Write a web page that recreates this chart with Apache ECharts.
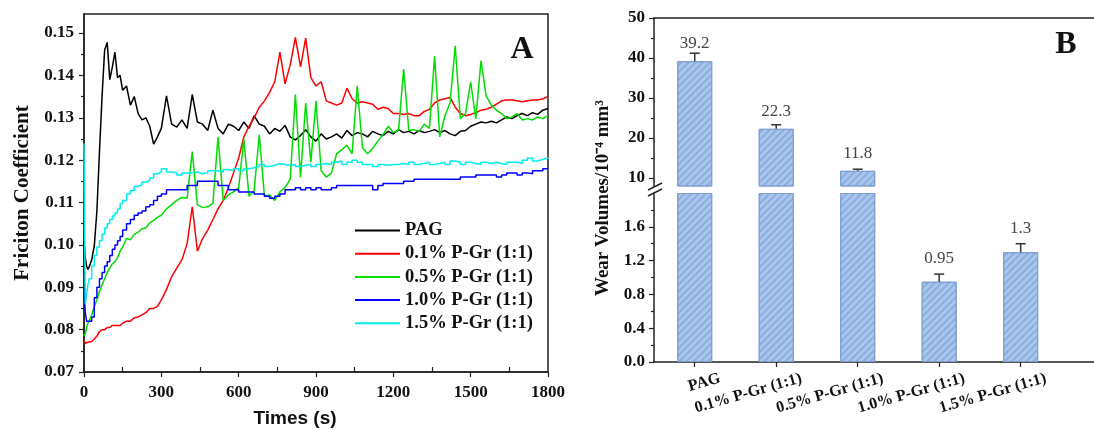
<!DOCTYPE html>
<html><head><meta charset="utf-8">
<script src="https://cdn.jsdelivr.net/npm/echarts@6/dist/echarts.min.js"></script>
<style>html,body{margin:0;padding:0;background:#fff}#c{width:1094px;height:430px}</style>
</head><body><div id="c"></div>
<script>
// ---------- Panel A data ----------
const times = [0,5,10,15,20,30,40,50,60,70,80,90,100,110,120,130,140,150,165,180,195,210,225,240,255,270,285,300,
320,340,360,380,400,420,440,460,480,500,520,540,560,580,600,620,640,660,680,700,720,740,760,780,800,820,840,860,880,900,
920,940,960,980,1000,1020,1040,1060,1080,1100,1120,1140,1160,1180,1200,1220,1240,1260,1280,1300,1320,1340,1360,1380,1400,
1420,1440,1460,1480,1500,1520,1540,1560,1580,1600,1620,1640,1660,1680,1700,1720,1740,1760,1780,1800];

const pagCoef = [0.101,0.097,0.095,0.0942,0.0948,0.0965,0.0998,0.108,0.122,0.135,0.146,0.1478,0.139,0.142,0.1455,0.1395,0.140,0.1365,0.1375,0.133,0.135,0.131,0.1295,0.130,0.128,0.1238,0.1255,0.1275,
0.1352,0.1285,0.1278,0.1295,0.1275,0.1355,0.129,0.1285,0.127,0.1318,
0.1275,0.1262,0.1285,0.128,0.127,0.129,0.1275,0.1305,0.1285,0.128,
0.1262,0.1275,0.1268,0.1282,0.1255,0.1248,0.1258,0.1272,0.1255,0.1245,
0.1262,0.125,0.1255,0.1262,0.1252,0.127,0.1258,0.1265,0.1262,0.1255,
0.1268,0.1262,0.1258,0.1268,0.1262,0.1272,0.1265,0.1268,0.1262,0.127,
0.1265,0.1268,0.1272,0.1265,0.127,0.1262,0.1258,0.1268,0.127,0.128,
0.1285,0.129,0.1288,0.1292,0.1288,0.1295,0.1302,0.1298,0.1305,0.131,
0.1305,0.1312,0.1308,0.1318,0.1322];

const pg01Coef = [0.0775,0.0768,0.0765,0.077,0.077,0.0772,0.0778,0.0785,0.0795,0.080,0.080,0.0805,0.0805,0.081,0.081,0.081,0.081,0.0815,0.082,0.082,0.0828,0.083,0.0835,0.084,0.085,0.085,0.0855,0.087,
0.0895,0.0925,0.0945,0.0965,0.1003,0.109,0.0985,0.1015,0.1035,0.106,
0.1085,0.1105,0.1135,0.117,0.1205,0.1255,0.128,0.130,0.1325,0.134,
0.136,0.1385,0.1455,0.138,0.1425,0.149,0.142,0.1488,0.1395,0.1375,
0.1385,0.134,0.1335,0.133,0.1335,0.137,0.1345,0.1335,0.1338,0.1335,
0.1332,0.132,0.1325,0.1322,0.131,0.131,0.1308,0.131,0.1305,0.1305,
0.1315,0.132,0.1335,0.1342,0.1345,0.1348,0.1325,0.131,0.1305,0.1308,
0.1312,0.1318,0.132,0.1325,0.1332,0.134,0.1342,0.1342,0.134,0.1338,
0.134,0.1342,0.1342,0.1345,0.135];

const pg05Coef = [0.0785,0.079,0.0805,0.0815,0.082,0.0835,0.0855,0.087,0.089,0.0905,0.092,0.0935,0.0945,0.0955,0.096,0.097,0.0985,0.0995,0.1015,0.1012,0.1025,0.103,0.1038,0.104,0.1052,0.1058,0.1065,0.107,
0.1085,0.1095,0.1105,0.1112,0.111,0.122,0.1095,0.1088,0.109,0.1098,
0.1255,0.1105,0.1118,0.1125,0.1135,0.125,0.1115,0.1128,0.126,0.1115,
0.1118,0.1105,0.1125,0.1135,0.1155,0.1355,0.116,0.1335,0.1195,0.134,
0.1175,0.116,0.117,0.1215,0.1225,0.1235,0.1215,0.1375,0.123,0.1215,
0.1228,0.1245,0.126,0.128,0.1265,0.127,0.1415,0.127,0.1272,0.1268,
0.1285,0.1275,0.1445,0.1255,0.1305,0.1335,0.147,0.1298,0.131,0.1385,
0.1298,0.1435,0.1352,0.133,0.1318,0.131,0.1298,0.1302,0.131,0.1295,
0.1298,0.1295,0.1302,0.1298,0.1305];

const pg10Coef = [0.09,0.084,0.082,0.082,0.082,0.083,0.0875,0.090,0.092,0.0935,0.095,0.096,0.0975,0.099,0.100,0.101,0.102,0.1035,0.105,0.106,0.107,0.1075,0.108,0.109,0.1095,0.1105,0.1115,0.112,
0.113,0.113,0.113,0.113,0.114,0.114,0.115,0.115,0.115,0.115,
0.114,0.114,0.113,0.113,0.1125,0.1125,0.1125,0.112,0.112,0.1115,
0.111,0.1115,0.112,0.113,0.113,0.1135,0.113,0.1135,0.113,0.1135,
0.113,0.113,0.1135,0.114,0.114,0.114,0.114,0.114,0.114,0.114,
0.113,0.114,0.1145,0.1145,0.1145,0.1145,0.115,0.115,0.1155,0.1155,
0.1155,0.1155,0.1155,0.1155,0.1155,0.1155,0.1155,0.116,0.116,0.116,
0.1165,0.1165,0.1165,0.1165,0.116,0.1165,0.117,0.117,0.1165,0.117,
0.1168,0.1175,0.1175,0.118,0.118];

const pg15Coef = [0.124,0.086,0.0885,0.0905,0.092,0.095,0.0975,0.0995,0.101,0.1025,0.104,0.105,0.106,0.1068,0.1075,0.1085,0.1098,0.1105,0.112,0.1128,0.1138,0.1142,0.1148,0.1152,0.1158,0.1168,0.1172,0.118,
0.1172,0.117,0.1165,0.117,0.117,0.1172,0.1168,0.117,0.1175,0.1175,
0.1172,0.1178,0.1175,0.118,0.1175,0.118,0.1182,0.1185,0.119,0.1185,
0.1188,0.1192,0.119,0.1188,0.119,0.1185,0.1188,0.119,0.1185,0.119,
0.1192,0.119,0.1195,0.1198,0.119,0.1195,0.120,0.1195,0.119,0.119,
0.1185,0.119,0.1188,0.119,0.119,0.1192,0.119,0.1195,0.119,0.1192,
0.1195,0.119,0.1192,0.1195,0.119,0.1198,0.1195,0.119,0.1195,0.1192,
0.119,0.1195,0.1192,0.1195,0.1192,0.119,0.1195,0.1195,0.1192,0.120,
0.1205,0.1198,0.1202,0.1205,0.1202];

const seriesNames = ['PAG','0.1% P-Gr (1:1)','0.5% P-Gr (1:1)','1.0% P-Gr (1:1)','1.5% P-Gr (1:1)'];
const xTicksA = [0,300,600,900,1200,1500,1800];
const xMinorA = [150,450,750,1050,1350,1650];
const yTicksA = [0.07,0.08,0.09,0.10,0.11,0.12,0.13,0.14,0.15];
const yMinorA = [0.075,0.085,0.095,0.105,0.115,0.125,0.135,0.145];

// ---------- Panel B data ----------
const categories = ['PAG','0.1% P-Gr (1:1)','0.5% P-Gr (1:1)','1.0% P-Gr (1:1)','1.5% P-Gr (1:1)'];
const wearVolumes = [39.2, 22.3, 11.8, 0.95, 1.3];
const wearErrors = [2.0, 1.0, 0.4, 0.09, 0.1];
const upperTicksB = [10,20,30,40,50];
const upperMinorB = [15,25,35,45];
const lowerTicksB = [0.0,0.4,0.8,1.2,1.6];
const lowerMinorB = [0.2,0.6,1.0,1.4,1.8];
const breakLow = 2.0, breakHigh = 8;

// ---------- styling ----------
const SERIF = 'Liberation Serif';
const lineColors = ['#000000','#ff0000','#00dd00','#0000ff','#00eeee'];
const coefArrays = [pagCoef, pg01Coef, pg05Coef, pg10Coef, pg15Coef];
const stepped = [false, false, false, true, true];
const axisLineStyle = {lineStyle:{color:'#222', width:1.5}};
const tickLabel = {fontFamily:SERIF, fontWeight:'bold', fontSize:17, color:'#111'};

const chart = echarts.init(document.getElementById('c'), null, {renderer:'canvas'});

const lineSeries = coefArrays.map((arr, k) => ({
  type:'line', name:seriesNames[k], xAxisIndex:0, yAxisIndex:0,
  data: times.map((t,i) => [t, arr[i]]),
  symbol:'none', step: stepped[k] ? 'end' : false,
  lineStyle:{color:lineColors[k], width:1.5}, itemStyle:{color:lineColors[k]},
  z: 2
}));

const barStyle = {
  color:'#a9c6ec', borderColor:'#7f9fcf', borderWidth:1,
  decal:{symbol:'rect', symbolSize:1, dashArrayX:[1,0], dashArrayY:[1.5,2.5], rotation:-Math.PI/4, color:'rgba(90,130,195,0.38)'}
};

function errRender(params, api) {
  const x = api.value(0), v = api.value(1), e = api.value(2);
  const p0 = api.coord([x, v]), p1 = api.coord([x, v + e]);
  const hw = 5;
  return {type:'group', children:[
    {type:'line', shape:{x1:p0[0], y1:p0[1], x2:p1[0], y2:p1[1]}, style:{stroke:'#333', lineWidth:1.5}},
    {type:'line', shape:{x1:p1[0]-hw, y1:p1[1], x2:p1[0]+hw, y2:p1[1]}, style:{stroke:'#333', lineWidth:1.5}}
  ]};
}

const valLabel = {show:true, position:'top', fontFamily:SERIF, fontSize:17, color:'#444',
  formatter: p => String(wearVolumes[p.dataIndex])};

const upperBars = {
  type:'bar', xAxisIndex:3, yAxisIndex:2, barWidth:35, clip:true,
  data: wearVolumes.map((v,i) => [i+1, v >= breakHigh ? v : '-']),
  itemStyle: barStyle, label: Object.assign({}, valLabel, {distance:9}), z:2
};
const lowerBars = {
  type:'bar', xAxisIndex:2, yAxisIndex:4, barWidth:35, clip:true,
  data: wearVolumes.map((v,i) => ({value:[i+1, Math.min(v, breakLow)], label:{show: v < breakLow}})),
  itemStyle: barStyle, label: Object.assign({}, valLabel, {distance:15}), z:2
};
const upperErr = {
  type:'custom', xAxisIndex:3, yAxisIndex:2, renderItem:errRender, z:3,
  data: wearVolumes.map((v,i) => [i+1, v, wearErrors[i]]).filter(d => d[1] >= breakHigh)
};
const lowerErr = {
  type:'custom', xAxisIndex:2, yAxisIndex:4, renderItem:errRender, z:3,
  data: wearVolumes.map((v,i) => [i+1, v, wearErrors[i]]).filter(d => d[1] < breakLow)
};

const labelShift = 0.31;
const xMinB = 0.5, xMaxB = 5.9;

const option = {
  animation:false,
  backgroundColor:'#fff',
  grid:[
    {left:84, top:14, width:464, height:358, show:true, borderColor:'#222', borderWidth:1.5, backgroundColor:'transparent'},
    {left:654, top:18, width:453.6, height:168},
    {left:654, top:193, width:453.6, height:169}
  ],
  legend:{
    data:seriesNames, orient:'vertical', left:355, top:221, padding:0,
    icon:'rect', itemWidth:45, itemHeight:2, itemGap:4.2,
    textStyle:{fontFamily:SERIF, fontWeight:'bold', fontSize:18.5, color:'#111'}
  },
  xAxis:[
    {type:'value', gridIndex:0, min:0, max:1800, interval:300, position:'bottom',
     axisLine:axisLineStyle, axisTick:{length:5, lineStyle:{color:'#222', width:1.2}},
     axisLabel:Object.assign({margin:12, formatter: v => String(v)}, tickLabel), splitLine:{show:false}},
    {type:'value', gridIndex:0, min:0, max:1800, position:'bottom',
     axisLine:{show:false}, axisLabel:{show:false}, splitLine:{show:false},
     axisTick:{inside:true, length:5, customValues:xMinorA, lineStyle:{color:'#222', width:1.2}}},
    {type:'value', gridIndex:2, min:xMinB, max:xMaxB, position:'bottom',
     axisLine:axisLineStyle, splitLine:{show:false},
     axisTick:{length:5, customValues:categories.map((c,i)=>i+1), lineStyle:{color:'#222', width:1.2}},
     axisLabel:Object.assign({}, tickLabel, {fontSize:16, rotate:16, margin:16,
       customValues:categories.map((c,i)=>i+1+labelShift),
       formatter: v => categories[Math.round(v - labelShift) - 1] || ''})},
    {type:'value', gridIndex:1, min:xMinB, max:xMaxB, position:'top',
     axisLine:axisLineStyle, axisTick:{show:false}, axisLabel:{show:false}, splitLine:{show:false}}
  ],
  yAxis:[
    {type:'value', gridIndex:0, min:0.07, max:0.1545, position:'left',
     axisLine:axisLineStyle, splitLine:{show:false},
     axisTick:{length:5, customValues:yTicksA, lineStyle:{color:'#222', width:1.2}},
     axisLabel:Object.assign({margin:10, customValues:yTicksA, formatter: v => v.toFixed(2)}, tickLabel),
     name:'Friciton Coefficient', nameLocation:'middle', nameGap:51,
     nameTextStyle:{fontFamily:SERIF, fontWeight:'bold', fontSize:21, color:'#111'}},
    {type:'value', gridIndex:0, min:0.07, max:0.1545, position:'left',
     axisLine:{show:false}, axisLabel:{show:false}, splitLine:{show:false},
     axisTick:{length:3, customValues:yMinorA, lineStyle:{color:'#222', width:1.2}}},
    {type:'value', gridIndex:1, min:breakHigh, max:50, position:'left',
     axisLine:axisLineStyle, splitLine:{show:false},
     axisTick:{length:5, customValues:upperTicksB, lineStyle:{color:'#222', width:1.2}},
     axisLabel:Object.assign({margin:9, customValues:upperTicksB}, tickLabel)},
    {type:'value', gridIndex:1, min:breakHigh, max:50, position:'left',
     axisLine:{show:false}, axisLabel:{show:false}, splitLine:{show:false},
     axisTick:{length:3, customValues:upperMinorB, lineStyle:{color:'#222', width:1.2}}},
    {type:'value', gridIndex:2, min:0, max:breakLow, position:'left',
     axisLine:axisLineStyle, splitLine:{show:false},
     axisTick:{length:5, customValues:lowerTicksB, lineStyle:{color:'#222', width:1.2}},
     axisLabel:Object.assign({margin:9, customValues:lowerTicksB, formatter: v => v.toFixed(1)}, tickLabel)},
    {type:'value', gridIndex:2, min:0, max:breakLow, position:'left',
     axisLine:{show:false}, axisLabel:{show:false}, splitLine:{show:false},
     axisTick:{length:3, customValues:lowerMinorB, lineStyle:{color:'#222', width:1.2}}}
  ],
  graphic:[
    {type:'text', x:522, y:50, style:{text:'A', font:'bold 32px "Liberation Serif"', fill:'#111', align:'center', verticalAlign:'middle'}},
    {type:'text', x:1066, y:45, style:{text:'B', font:'bold 32px "Liberation Serif"', fill:'#111', align:'center', verticalAlign:'middle'}},
    {type:'text', x:295, y:419, style:{text:'Times (s)', font:'bold 19px "Liberation Sans"', fill:'#111', align:'center', verticalAlign:'middle'}},
    {type:'text', x:603, y:198, rotation:Math.PI/2, style:{text:'Wear Volumes/10⁻⁴ mm³', font:'bold 19px "Liberation Serif"', fill:'#111', align:'center', verticalAlign:'middle'}},
    {type:'line', shape:{x1:648, y1:190, x2:662, y2:183}, style:{stroke:'#222', lineWidth:1.4}},
    {type:'line', shape:{x1:648, y1:196, x2:662, y2:189}, style:{stroke:'#222', lineWidth:1.4}}
  ],
  series: lineSeries.concat([upperBars, lowerBars, upperErr, lowerErr])
};
chart.setOption(option);
</script>
</body></html>
